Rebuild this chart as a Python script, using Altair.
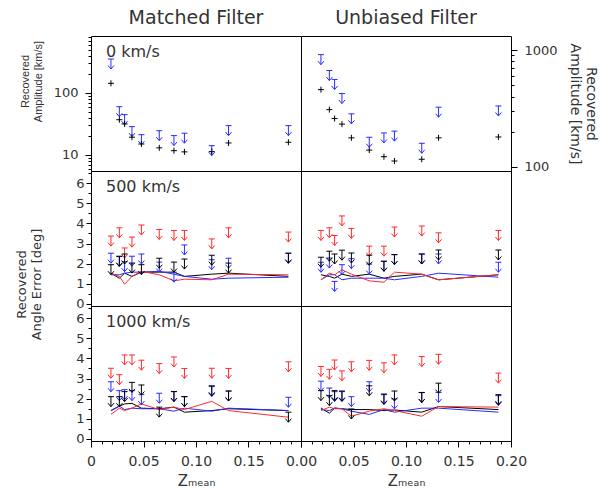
import altair as alt
import pandas as pd

# ---------------- data ----------------
z_mean = [0.019, 0.027, 0.032, 0.039, 0.048, 0.065, 0.079, 0.089, 0.115, 0.131, 0.188]

# top row: recovered amplitude [km/s], 0 km/s
amp_mf_limit = [353, 60, 44.7, 28.6, 21.2, 24.6, 20.5, 22.4, 14.1, 29.7, 29.7]
amp_mf_recovered = [143, 37, 31.6, 19.3, 15.0, 13.0, 11.7, 11.2, 11.3, 15.6, 16.0]
amp_ub_limit = [914, 668, 560, 424, 284, 179, 195, 202, 159, 324, 332]
amp_ub_recovered = [458, 309, 259, 232, 177, 139, 122, 112, 116, 177, 180]

# middle row: angle error [deg], 500 km/s
a500_mf_red_lim = [3.37, 3.78, 2.78, 3.32, 3.92, 3.70, 3.65, 3.65, 3.23, 3.78, 3.57]
a500_mf_blue_lim = [2.52, 2.35, 2.10, 2.37, 2.48, 2.08, 1.58, 2.93, 2.20, 2.27, 2.52]
a500_mf_black_lim = [1.95, 2.37, 2.48, 2.03, 1.95, 2.27, 2.08, 2.23, 2.42, 2.03, 2.52]
l500_mf_black = [1.53, 1.28, 1.53, 1.37, 1.58, 1.58, 1.58, 1.37, 1.48, 1.53, 1.37]
l500_mf_blue = [1.45, 1.45, 1.53, 1.58, 1.58, 1.62, 1.48, 1.37, 1.23, 1.28, 1.33]
l500_mf_red = [1.53, 1.37, 0.98, 1.37, 1.62, 1.45, 1.15, 1.23, 1.20, 1.48, 1.45]

a500_ub_red_lim = [3.65, 3.78, 3.40, 4.37, 3.75, 2.87, 2.87, 3.82, 3.87, 3.53, 3.65]
a500_ub_blue_lim = [2.07, 2.28, 1.12, 1.95, 2.25, 1.98, 2.12, 2.45, 2.48, 2.48, 2.07]
a500_ub_black_lim = [2.32, 2.62, 2.48, 2.67, 2.53, 2.42, 2.12, 2.45, 2.48, 2.68, 2.68]
l500_ub_black = [1.45, 1.37, 1.28, 1.48, 1.37, 1.48, 1.28, 1.37, 1.48, 1.20, 1.45]
l500_ub_blue = [1.20, 1.45, 1.45, 1.20, 1.28, 1.28, 1.28, 1.20, 1.37, 1.53, 1.33]
l500_ub_red = [1.20, 1.53, 1.45, 1.70, 1.48, 1.15, 1.08, 1.58, 1.48, 1.20, 1.45]

# bottom row: angle error [deg], 1000 km/s
a1000_mf_red_lim = [3.51, 3.19, 4.17, 4.17, 3.91, 3.74, 4.07, 3.50, 3.51, 3.50, 3.83]
a1000_mf_blue_lim = [2.84, 2.40, 2.45, 2.40, 2.20, 2.27, 2.36, 2.10, 2.60, 2.38, 2.07]
a1000_mf_black_lim = [2.10, 2.10, 2.35, 2.81, 2.68, 1.58, 2.35, 2.10, 2.64, 2.38, 1.33]
l1000_mf_black = [1.41, 1.63, 1.74, 1.77, 1.53, 1.50, 1.58, 1.33, 1.41, 1.50, 1.41]
l1000_mf_blue = [1.41, 1.63, 1.46, 1.53, 1.50, 1.50, 1.38, 1.53, 1.38, 1.53, 1.41]
l1000_mf_red = [1.22, 1.53, 1.41, 1.53, 1.74, 1.46, 1.58, 1.46, 1.87, 1.41, 1.08]

a1000_ub_red_lim = [3.60, 3.46, 3.92, 3.38, 3.83, 3.90, 3.78, 4.17, 4.09, 4.20, 3.27]
a1000_ub_blue_lim = [2.87, 2.53, 2.35, 2.35, 2.10, 2.84, 2.20, 1.99, 2.30, 2.31, 2.15]
a1000_ub_black_lim = [2.40, 2.15, 2.40, 2.38, 1.49, 2.64, 2.23, 2.38, 2.31, 2.77, 2.20]
l1000_ub_black = [1.54, 1.28, 1.53, 1.50, 1.46, 1.46, 1.41, 1.44, 1.33, 1.61, 1.46]
l1000_ub_blue = [1.46, 1.41, 1.54, 1.50, 1.38, 1.22, 1.46, 1.33, 1.53, 1.53, 1.33]
l1000_ub_red = [1.41, 1.58, 1.50, 1.50, 1.13, 1.38, 1.50, 1.41, 1.13, 1.61, 1.58]

speed_labels = ["0 km/s", "500 km/s", "1000 km/s"]
column_titles = ["Matched Filter", "Unbiased Filter"]

# tick positions
x_ticks = [0.0, 0.01, 0.02, 0.03, 0.04, 0.05, 0.06, 0.07, 0.08, 0.09, 0.10,
           0.11, 0.12, 0.13, 0.14, 0.15, 0.16, 0.17, 0.18, 0.19, 0.20]
angle_ticks = [0, 0.5, 1, 1.5, 2, 2.5, 3, 3.5, 4, 4.5, 5, 5.5, 6, 6.5]
amp_left_ticks = [6, 7, 8, 9, 10, 20, 30, 40, 50, 60, 70, 80, 90, 100,
                  200, 300, 400, 500, 600, 700, 800]
amp_right_ticks = [100, 200, 300, 400, 500, 600, 700, 800, 900, 1000]

# ---------------- style ----------------
FONT = "DejaVu Sans"
TXT = "#333333"
ARROW = "M -0.6 0 L 0.6 0 M 0 0 L 0 2 M -0.6 1.3 L 0 2 L 0.6 1.3"
PLUS = "M -1 0 L 1 0 M 0 -1 L 0 1"
W, H = 210, 135
BLUE = "#2a2aff"
color_scale = alt.Scale(domain=["black", "blue", "red"],
                        range=["#000000", BLUE, "#ff2a2a"])
xscale = alt.Scale(domain=[0, 0.2], nice=False, zero=False)
angle_scale = alt.Scale(domain=[-0.1, 6.6], nice=False, zero=False)


def long_df(d):
    rows = []
    for s, vals in d.items():
        for z, v in zip(z_mean, vals):
            rows.append({"z": z, "v": v, "series": s})
    return pd.DataFrame(rows)


def x_axis(kind):
    if kind is None:
        return None
    if kind == "left":
        expr = ("datum.value == 0 ? '0' : (indexof(['0.05','0.10','0.15'], "
                "format(datum.value, '.2f')) >= 0 ? format(datum.value, '.2f') : '')")
    else:
        expr = ("indexof(['0.00','0.05','0.10','0.15','0.20'], format(datum.value, '.2f')) >= 0 "
                "? format(datum.value, '.2f') : ''")
    return alt.Axis(values=x_ticks, labelExpr=expr, grid=False, domain=False, labelFlush=False,
                    tickSize={"condition": {"test": "abs(datum.value*20 - round(datum.value*20)) < 0.001",
                                            "value": 6}, "value": 3},
                    tickColor="#000", labelPadding=7, labelFont=FONT, labelFontSize=14,
                    labelColor=TXT, title="Zₘₑₐₙ", titleFont=FONT, titleFontSize=15,
                    titleFontWeight="normal", titleColor=TXT, titlePadding=5)


def label_layer(txt):
    return alt.Chart(pd.DataFrame({"label": [txt]})).mark_text(
        align="left", baseline="top", font=FONT, fontSize=16, color=TXT
    ).encode(text="label:N", x=alt.value(15), y=alt.value(8))


def angle_layers(lims, lines, xkind, yax):
    lim_df = long_df(lims)
    line_df = long_df(lines)
    y = alt.Y("v:Q", scale=angle_scale, axis=yax)
    x = alt.X("z:Q", scale=xscale, axis=x_axis(xkind))
    col = alt.Color("series:N", scale=color_scale, legend=None)
    lines_l = alt.Chart(line_df).mark_line(strokeWidth=1).encode(
        x=x, y=y, color=col, detail="series:N")
    arrows = alt.Chart(lim_df).mark_point(
        shape=ARROW, size=100, filled=False, strokeWidth=1, opacity=1
    ).encode(x=x, y=y, color=col)
    return [lines_l, arrows]


def angle_axis(with_title):
    kw = dict(title=None)
    if with_title:
        kw = dict(title=["Recovered", "Angle Error [deg]"], titleY=-22,
                  titleFont=FONT, titleFontSize=13, titleFontWeight="normal",
                  titleColor=TXT, titlePadding=6)
    return alt.Axis(values=angle_ticks, grid=False, domain=False, labelFlush=False,
                    labelExpr="datum.value % 1 == 0 ? format(datum.value, 'd') : ''",
                    tickSize={"condition": {"test": "datum.value % 1 == 0", "value": 5},
                              "value": 3},
                    tickColor="#000", labelPadding=2, labelFont=FONT, labelFontSize=13,
                    labelColor=TXT, minExtent=42, maxExtent=42, **kw)


def angle_panel(lims, lines, label, xkind, left):
    yax = angle_axis(left == "title") if left else None
    layers = angle_layers(lims, lines, xkind, yax)
    if label:
        layers.append(label_layer(label))
    return alt.layer(*layers).properties(width=W, height=H)


def amp_panel(lim, rec, label, side, title_text):
    df_lim = pd.DataFrame({"z": z_mean, "v": lim})
    df_rec = pd.DataFrame({"z": z_mean, "v": rec})
    if side == "left":
        yscale = alt.Scale(type="log", domain=[5.5, 830], nice=False)
        yax = alt.Axis(values=amp_left_ticks, grid=False, domain=False, labelFlush=False,
                       labelExpr="datum.value == 10 || datum.value == 100 ? format(datum.value, 'd') : ''",
                       tickSize={"condition": {"test": "datum.value == 10 || datum.value == 100",
                                               "value": 6}, "value": 3},
                       tickColor="#000", labelPadding=7, labelFont=FONT, labelFontSize=13,
                       labelColor=TXT, minExtent=42, maxExtent=42,
                       title=["Recovered", "Amplitude [km/s]"], titleY=45,
                       titleFont="Liberation Sans", titleFontSize=11, titleFontWeight="normal",
                       titleColor=TXT, titlePadding=6)
    else:
        yscale = alt.Scale(type="log", domain=[92, 1320], nice=False)
        yax = alt.Axis(orient="right", values=amp_right_ticks, grid=False, domain=False,
                       labelFlush=False,
                       labelExpr="datum.value == 100 || datum.value == 1000 ? format(datum.value, 'd') : ''",
                       tickSize={"condition": {"test": "datum.value == 100 || datum.value == 1000",
                                               "value": 6}, "value": 3},
                       tickColor="#000", labelPadding=7, labelFont=FONT, labelFontSize=13,
                       labelColor=TXT, minExtent=50, maxExtent=50,
                       title=["Recovered", "Amplitude [km/s]"],
                       titleFont=FONT, titleFontSize=14, titleFontWeight="normal",
                       titleColor=TXT, titlePadding=6)
    y = alt.Y("v:Q", scale=yscale, axis=yax)
    x = alt.X("z:Q", scale=xscale, axis=None)
    arrows = alt.Chart(df_lim).mark_point(
        shape=ARROW, size=100, filled=False, strokeWidth=1, opacity=1, color=BLUE
    ).encode(x=x, y=y)
    plus = alt.Chart(df_rec).mark_point(
        shape=PLUS, size=36, filled=False, strokeWidth=1, opacity=1, color="#000000"
    ).encode(x=x, y=y)
    layers = [arrows, plus]
    if label:
        layers.append(label_layer(label))
    return alt.layer(*layers).properties(
        width=W, height=H,
        title=alt.TitleParams(title_text, font=FONT, fontSize=19, fontWeight="normal",
                              color=TXT, anchor="middle", offset=8))


p11 = amp_panel(amp_mf_limit, amp_mf_recovered, speed_labels[0], "left", column_titles[0])
p12 = amp_panel(amp_ub_limit, amp_ub_recovered, None, "right", column_titles[1])
p21 = angle_panel({"red": a500_mf_red_lim, "blue": a500_mf_blue_lim, "black": a500_mf_black_lim},
                  {"black": l500_mf_black, "blue": l500_mf_blue, "red": l500_mf_red},
                  speed_labels[1], None, "plain")
p22 = angle_panel({"red": a500_ub_red_lim, "blue": a500_ub_blue_lim, "black": a500_ub_black_lim},
                  {"black": l500_ub_black, "blue": l500_ub_blue, "red": l500_ub_red},
                  None, None, None)
p31 = angle_panel({"red": a1000_mf_red_lim, "blue": a1000_mf_blue_lim, "black": a1000_mf_black_lim},
                  {"black": l1000_mf_black, "blue": l1000_mf_blue, "red": l1000_mf_red},
                  speed_labels[2], "left", "title")
p32 = angle_panel({"red": a1000_ub_red_lim, "blue": a1000_ub_blue_lim, "black": a1000_ub_black_lim},
                  {"black": l1000_ub_black, "blue": l1000_ub_blue, "red": l1000_ub_red},
                  None, "right", None)

chart = alt.concat(p11, p12, p21, p22, p31, p32, columns=2, spacing=0, bounds="flush").properties(
    padding={"left": 14, "top": 8, "right": 2, "bottom": 2}
).configure(background="white").configure_view(stroke="#000000", strokeWidth=1)

chart.save("out.html", embed_options={"renderer": "svg", "actions": False})
